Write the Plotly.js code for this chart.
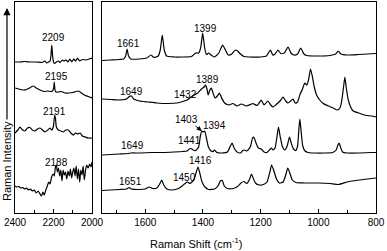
<!DOCTYPE html>
<html>
<head>
<meta charset="utf-8">
<script src="https://cdn.plot.ly/plotly-3.0.1.min.js"></script>
<style>html,body{margin:0;padding:0;background:#fff;}#chart{width:387px;height:251px;}</style>
</head>
<body>
<div id="chart"></div>
<script>
// ---- Left panel (2400-2000 cm-1), four spectra, top to bottom ----
const leftWn1 = [2400,2380,2350,2320,2290,2260,2245,2235,2225,2218,2213,2209,2205,2200,2195,2185,2175,2165,2155,2145,2135,2125,2115,2105,2095,2085,2075,2065,2055,2045,2030,2015,2000];
const leftI1  = [151,151,151.5,151,151,150.5,152,150,151,152,158,168,158,151,149.5,151,152,150.5,153,152,153,151,154,151,154,152,155,152,153,153.5,153,154,155];

const leftWn2 = [2400,2380,2360,2340,2320,2305,2290,2270,2250,2230,2215,2205,2199,2196,2193,2188,2175,2160,2140,2120,2100,2085,2070,2055,2040,2020,2000];
const leftI2  = [125,124,123,123.5,125.5,127,125,123,121.5,122,121.5,122,125,131,124,121,121,121.5,120,120,120.5,121.5,122,120,118,116.5,115];

const leftWn3 = [2400,2385,2374,2360,2348,2335,2322,2310,2296,2283,2270,2257,2244,2230,2218,2208,2200,2194,2190,2185,2175,2162,2149,2136,2123,2110,2097,2085,2075,2062,2050,2036,2020,2000];
const leftI3  = [80,83,86,83,82,85,85.5,83,82,84,85,83,81,83,85,83,87,98,95,86,83,82,81,83,83,80,78,80,79,80,77,76,75,75];

const leftWn4 = [2400,2390,2380,2370,2360,2350,2340,2330,2320,2310,2300,2290,2280,2270,2262,2255,2248,2240,2232,2225,2218,2210,2202,2196,2190,2185,2180,2174,2168,2162,2156,2150,2144,2138,2131,2125,2118,2112,2106,2100,2094,2088,2082,2076,2070,2064,2058,2052,2046,2040,2034,2028,2020,2012,2005,2000];
const leftI4  = [27,26,26.5,25,25.5,24,25,23,24,22,23,20,22,19,17,21,18,23,27,31,29,36,39,37,46,48,41,45,37,43,32,43,38,41,34,42,37,44,35,41,45,37,47,34,44,31,43,38,47,33,42,48,45,49,46,51];

// ---- Right panel (1750-800 cm-1), four spectra, top to bottom ----
const rightWn1 = [1750,1720,1690,1675,1668,1663,1658,1650,1620,1595,1580,1570,1555,1548,1541,1534,1526,1500,1470,1440,1425,1415,1408,1401,1394,1388,1380,1372,1360,1345,1332,1322,1312,1300,1288,1280,1270,1258,1240,1200,1180,1166,1158,1150,1140,1130,1118,1105,1095,1085,1072,1061,1050,1040,1000,960,940,931,922,900,860,830,800];
const rightI1  = [152.5,153,153.5,154,157,164,157,154,154,155,158,155.5,157,163,178,163,157,156,156,156.5,160,160,165,180,165,158.5,160,158,156,160,168,163,158,159,163,162,159,156.5,156,156,157,163,158,159,163,159.5,160,166,160,158,159,165,159,157.5,157,157.5,159,162,159,158,158.5,159,159.5];

const rightWn2 = [1750,1720,1695,1665,1655,1648,1640,1620,1590,1560,1520,1490,1470,1455,1441,1430,1418,1405,1396,1391,1386,1382,1376,1371,1365,1358,1350,1343,1335,1325,1310,1296,1282,1267,1250,1235,1227,1212,1198,1188,1175,1165,1157,1148,1140,1130,1122,1113,1105,1096,1088,1080,1072,1063,1055,1047,1040,1034,1027,1021,1014,1006,995,983,965,948,935,925,919,913,908,903,896,888,879,860,840,832,815,800];
const rightI2  = [114,113.5,113,114,116.5,117,114,112,111,110,109.5,110,111.5,113,116,118,120,124,126,128,124,118,123,125,120,115,117,120,115,110,108,109.5,107,109,107,108.5,109.5,107.5,113,108,112,108,106,108,110,113,116,112,110,112,114,110,111,119,124,130,128,133,144,137,126,118,113,109.5,107,105,103,105,112,125,136,125,113,106,102,100,98,97.5,97,96];

const rightWn3 = [1750,1720,1690,1660,1649,1620,1580,1540,1500,1470,1455,1447,1441,1434,1425,1415,1409,1404,1399,1394,1388,1381,1372,1365,1360,1352,1335,1315,1305,1299,1292,1282,1270,1262,1256,1248,1236,1228,1224,1216,1208,1198,1188,1178,1168,1163,1157,1150,1143,1138,1132,1124,1116,1108,1100,1094,1086,1078,1072,1067,1064,1060,1054,1046,1035,1010,980,950,938,932,928,923,916,900,860,820,800];
const rightI3  = [58,58.5,59,59.5,60,60,60.5,60.5,61,61.5,62,64,64.5,63,62.5,66,77,82,81,82,75,66,62,61.5,63,60.5,60,61,67,70,65,61,60,62.5,63,62,66,75,76,70,65,64,61,60.5,63.5,65,63,65,77,86,76,66,63,67,76,70,64,62.5,67,85,94,83,67,62,60.5,60,60,60.5,63,68,70,66,61,60,60,60.5,60.5];

const rightWn4 = [1750,1720,1690,1665,1656,1648,1620,1600,1586,1575,1560,1550,1543,1536,1525,1505,1485,1470,1460,1453,1445,1432,1423,1417,1411,1403,1393,1380,1360,1348,1340,1333,1326,1315,1295,1280,1268,1258,1248,1238,1232,1226,1218,1205,1190,1178,1168,1162,1155,1145,1135,1122,1112,1106,1100,1090,1078,1050,1000,960,930,900,870,830,800];
const rightI4  = [22.5,23,23.5,24,25.5,24,23.5,24,26,24.5,25,29,33,28,24,23,24.5,27.5,30,31,29.5,33,41,46,40,31,26,23.5,24,27,32,32.5,27,24.5,24.5,26.5,30,31.5,29.5,34,39,35,30,28,28.5,31,41,48,43,34,30,31,39,45,41,33,30.5,30,30,29.5,28.5,31,32.5,34,35];

// ---- Peak labels ----
const leftLabels  = ["2209","2195","2191","2188"];
const leftLabelX  = [2198,2187,2197,2187];
const leftLabelY  = [176,137,102,51];
const rightLabels = ["1661","1399","1649","1389","1432","1394","1649","1441","1416","1651","1450"];
const rightLabelX = [1659,1391,1649,1384,1461,1360,1645,1447,1409,1652,1464];
const rightLabelY = [169.5,185,122,134,119,88,68,73,53,32,36];
const arrowLabel = "1403";
const arrowTip = [1404, 82];

const lineStyle = {color:'#000', width:1.2, shape:'spline', smoothing:0.5};
const traces = [];
[[leftWn1,leftI1],[leftWn2,leftI2],[leftWn3,leftI3],[leftWn4,leftI4]].forEach(function(d){
  traces.push({x:d[0], y:d[1], type:'scatter', mode:'lines', line:lineStyle, xaxis:'x', yaxis:'y', hoverinfo:'skip'});
});
[[rightWn1,rightI1],[rightWn2,rightI2],[rightWn3,rightI3],[rightWn4,rightI4]].forEach(function(d){
  traces.push({x:d[0], y:d[1], type:'scatter', mode:'lines', line:lineStyle, xaxis:'x2', yaxis:'y2', hoverinfo:'skip'});
});

const lblFont = {family:'Liberation Sans, Arial, sans-serif', size:10, color:'#000'};
const annotations = [];
leftLabels.forEach(function(t,i){
  annotations.push({text:t, x:leftLabelX[i], y:leftLabelY[i], xref:'x', yref:'y', showarrow:false, font:lblFont});
});
rightLabels.forEach(function(t,i){
  annotations.push({text:t, x:rightLabelX[i], y:rightLabelY[i], xref:'x2', yref:'y2', showarrow:false, font:lblFont});
});
annotations.push({text:arrowLabel, x:arrowTip[0], y:arrowTip[1], xref:'x2', yref:'y2', showarrow:true,
  ax:-15, ay:-12, arrowhead:2, arrowsize:1, arrowwidth:1, arrowcolor:'#000', standoff:0, font:lblFont});
// Y title with upward arrow (arrow tip near top, text below it)
annotations.push({text:'Raman Intensity', xref:'paper', yref:'paper', x:-0.0222, y:0.9716, textangle:-90,
  showarrow:true, ax:0, ay:153, arrowhead:2, arrowsize:1.2, arrowwidth:1.2, arrowcolor:'#000', standoff:0,
  font:{family:'Liberation Sans, Arial, sans-serif', size:11, color:'#000'}});
annotations.push({text:'Raman Shift (cm<sup>-1</sup>)', xref:'paper', yref:'paper', x:0.5014, y:-0.142,
  showarrow:false, xanchor:'center', yanchor:'middle', font:{family:'Liberation Sans, Arial, sans-serif', size:11, color:'#000'}});

const tickFont = {family:'Liberation Sans, Arial, sans-serif', size:10, color:'#000'};
function xAxis(domain, range){
  return {domain:domain, range:range, autorange:false, showgrid:false, zeroline:false,
    showline:true, mirror:true, linecolor:'#000', linewidth:1,
    ticks:'inside', ticklen:4, tickwidth:1, tickcolor:'#000', dtick:200, tick0:0,
    minor:{dtick:100, ticks:'inside', ticklen:3, tickwidth:1, tickcolor:'#000', showgrid:false},
    tickfont:tickFont};
}
function yAxis(anchor){
  return {anchor:anchor, range:[0,211], autorange:false, showgrid:false, zeroline:false,
    showline:true, mirror:true, linecolor:'#000', linewidth:1, ticks:'', showticklabels:false};
}

const layout = {
  width:387, height:251,
  margin:{l:15, r:11, t:2, b:38, pad:0},
  paper_bgcolor:'#fff', plot_bgcolor:'#fff',
  showlegend:false,
  xaxis: Object.assign(xAxis([0, 0.2133], [2400, 2000]), {anchor:'y'}),
  xaxis2: Object.assign(xAxis([0.241, 1], [1750, 800]), {anchor:'y2'}),
  yaxis: yAxis('x'),
  yaxis2: yAxis('x2'),
  annotations: annotations
};

Plotly.newPlot('chart', traces, layout, {staticPlot:true, displayModeBar:false});
</script>
</body>
</html>
